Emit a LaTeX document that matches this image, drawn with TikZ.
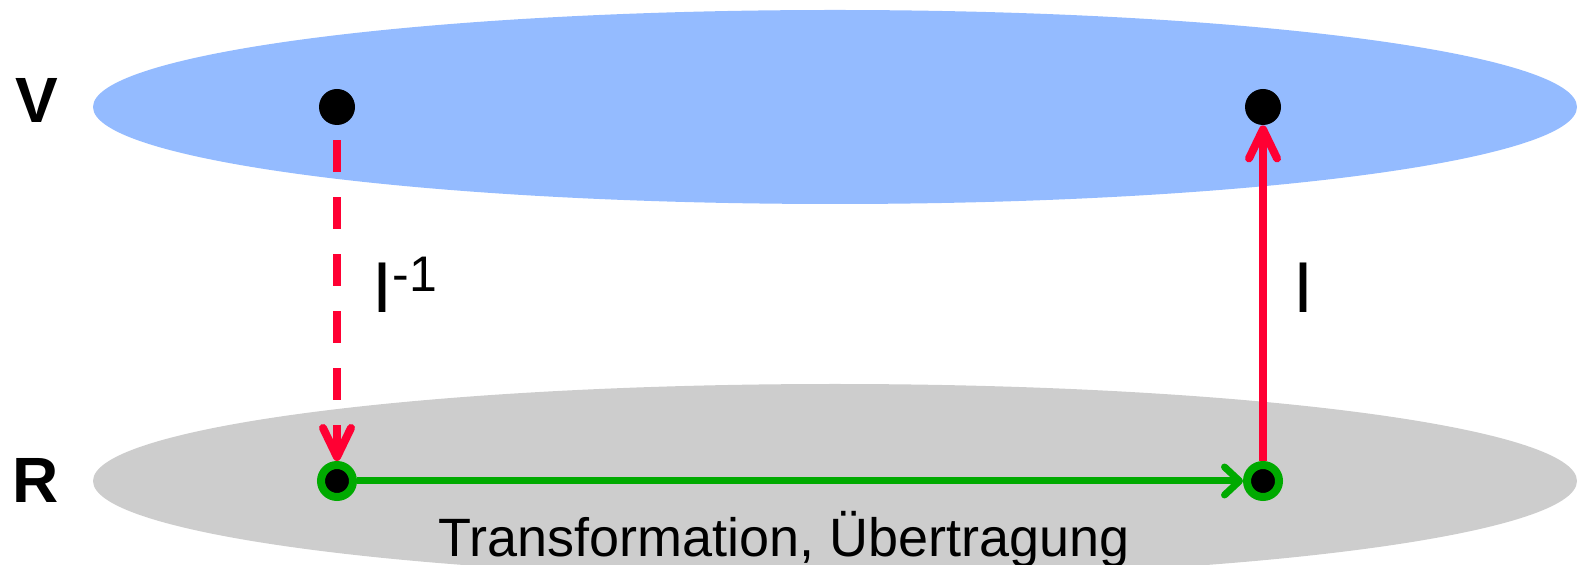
\documentclass[tikz,border=0pt]{standalone}
\usepackage{fontspec}
\setmainfont{Liberation Sans}
\usepackage{tikz}
\usetikzlibrary{arrows.meta}

\definecolor{planeblue}{RGB}{148,187,255}
\definecolor{planegray}{RGB}{205,205,205}
\definecolor{mapred}{RGB}{255,0,51}
\definecolor{transgreen}{RGB}{0,170,0}

\tikzset{
  punkt/.style={circle, fill=black, minimum size=18pt, inner sep=0pt},
  ringpunkt/.style={circle, draw=transgreen, line width=4pt, fill=black, minimum size=16pt, inner sep=0pt},
  abbildung/.style={draw=mapred, line width=4pt, -{Straight Barb[length=14.5pt, width=14pt, round]}},
  transfer/.style={draw=transgreen, line width=3.5pt, -{Straight Barb[length=7.5pt, width=14pt, round]}},
  ebene/.style={font=\fontsize{32}{32}\selectfont\bfseries, inner sep=0pt, anchor=base},
  marke/.style={font=\fontsize{36}{36}\selectfont, inner sep=0pt, anchor=base west},
}

\begin{document}
\begin{tikzpicture}[x=0.5pt, y=-0.5pt]
  \clip (0,0) rectangle (1577,565);
  \newcommand{\levelplane}[2]
  {%
    \fill[#2] #1 ellipse [x radius=742, y radius=97];%
  }%
  \levelplane{(835,107)}{planeblue}
  \levelplane{(835,481)}{planegray}
  \node[ebene] (vlabel) at (37,123) {V};
  \node[ebene] (rlabel) at (36,503) {R};
  \node[punkt] (vl) at (337,107) {};
  \node[punkt] (vr) at (1263,107) {};
  \node[ringpunkt] (rl) at (337,481) {};
  \node[ringpunkt] (rr) at (1263,481) {};
  \draw[abbildung, dash pattern=on 16pt off 12.5pt, shorten <=7.5pt] (vl) -- (rl);
  \draw[abbildung] (rr) -- (vr);
  \draw[transfer] (rl) -- (rr);
  \node[marke] (inv) at (372,313) {I\raisebox{10.5pt}{\fontsize{25}{25}\selectfont -1}};
  \node[marke] (abb) at (1293,313) {I};
  \node[font=\fontsize{27}{27}\selectfont, inner sep=0pt, anchor=base] (trans) at (784,556) {Transformation, Übertragung};
\end{tikzpicture}
\end{document}
